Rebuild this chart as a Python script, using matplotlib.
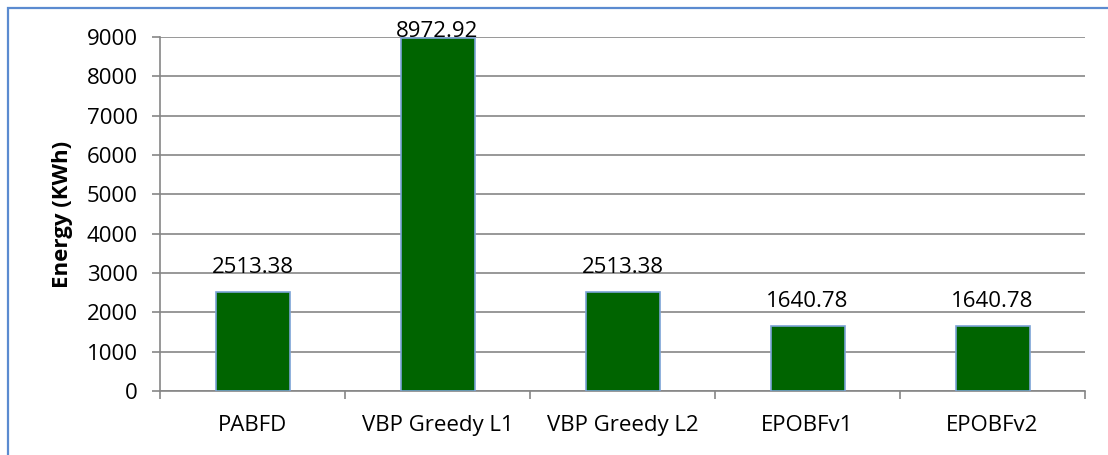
import matplotlib
matplotlib.use("Agg")
import matplotlib.pyplot as plt
from matplotlib.patches import Rectangle

categories = ["PABFD", "VBP Greedy L1", "VBP Greedy L2", "EPOBFv1", "EPOBFv2"]
energy = [2513.38, 8972.92, 2513.38, 1640.78, 1640.78]
value_labels = ["2513.38", "8972.92", "2513.38", "1640.78", "1640.78"]
y_ticks = [0, 1000, 2000, 3000, 4000, 5000, 6000, 7000, 8000, 9000]

plt.rcParams['font.family'] = ['Open Sans', 'DejaVu Sans']

W, H = 1108, 455
fig = plt.figure(figsize=(W / 100, H / 100), dpi=100)
ax = fig.add_axes([160 / W, (H - 391) / H, 925 / W, 354 / H])

grid_c = '#868686'
fs = 16
x = list(range(len(categories)))
ax.bar(x, energy, width=0.4, color='#006400', edgecolor='#7ba3d6', linewidth=1.2, zorder=3)

ax.set_xlim(-0.5, len(categories) - 0.5)
ax.set_ylim(0, 9000)

# data labels: baseline ~19 px above bar top, kept inside the chart area (like Excel)
max_baseline_px = H - 37
for xi, v, lab in zip(x, energy, value_labels):
    top_px = ax.transData.transform((xi, v))[1]
    off_px = min(19, max_baseline_px - top_px)
    ax.annotate(lab, (xi, v), xytext=(0, off_px * 72 / 100), textcoords='offset points',
                ha='center', va='baseline', fontsize=fs, color='black', zorder=4)

ax.set_yticks(y_ticks)
ax.set_yticklabels([str(t) for t in y_ticks], fontsize=fs)
ax.set_xticks(x)
ax.set_xticklabels(categories, fontsize=fs)
ax.set_xticks([i - 0.5 for i in range(len(categories) + 1)], minor=True)
ax.tick_params(axis='x', which='major', length=0, pad=17)
ax.tick_params(axis='x', which='minor', length=6, width=1.2, color=grid_c, direction='out')
ax.tick_params(axis='y', length=6, width=1.2, color=grid_c, direction='out', pad=10)

ax.grid(axis='y', color=grid_c, linewidth=1.2, zorder=0)
ax.set_axisbelow(True)
for s in ['top', 'right']:
    ax.spines[s].set_visible(False)
for s in ['left', 'bottom']:
    ax.spines[s].set_color(grid_c)
    ax.spines[s].set_linewidth(1.2)

ax.set_ylabel("Energy (KWh)", fontsize=fs, fontweight='bold', labelpad=10)

border = Rectangle((7.5 / W, -0.1), 1.2, (H - 7.5) / H + 0.1, transform=fig.transFigure,
                   fill=False, edgecolor='#5b8bd0', linewidth=1.6)
fig.patches.append(border)

fig.savefig("out.png", dpi=100)
